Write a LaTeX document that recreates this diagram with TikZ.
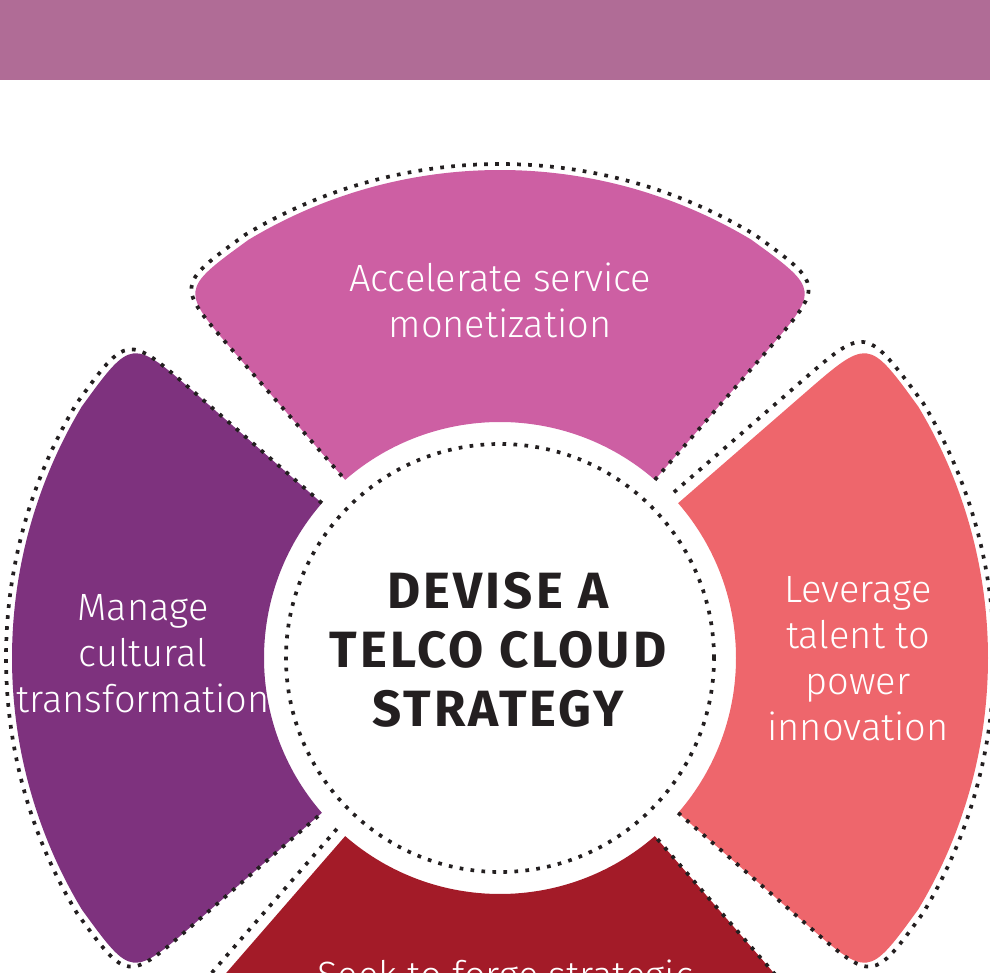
\documentclass[tikz,border=0pt]{standalone}
\usepackage{fontspec}
\setmainfont{Fira Sans}[UprightFont=* Light, BoldFont=* Bold]
\definecolor{banner}{HTML}{B06C96}
\definecolor{petalpink}{HTML}{CD5FA3}
\definecolor{petalplum}{HTML}{7E327E}
\definecolor{petalcoral}{HTML}{EE666C}
\definecolor{petalred}{HTML}{A31B28}
\definecolor{dotink}{HTML}{231F20}
\newfontfamily\hubfont{Fira Sans}[UprightFont=* Bold, LetterSpace=6]
\tikzset{
    petaldots/.style={draw=dotink, line width=3.7pt, dash pattern=on 3.7pt off 7.3pt},
    petaltext/.style={text=white, align=center, inner sep=0pt,
                      font=\fontsize{38}{46}\selectfont},
    hubtext/.style={text=dotink, align=center, inner sep=0pt,
                    font=\hubfont\fontsize{51}{59}\selectfont},
}
\begin{document}
\begin{tikzpicture}[x=1pt, y=1pt]
    \useasboundingbox (0,0) rectangle (990,972);
    \clip (0,0) rectangle (990,972);

    % banner
    \fill[banner] (0,892) rectangle (990,972);

    \begin{scope}[shift={(500,314)}]
    % petals: angle / colour / extra gap left / extra gap right
    \foreach \a/\col/\l/\r in {90/petalpink/0/0, 180/petalplum/0/0,
                               0/petalcoral/0/11, 270/petalred/11/0} {
        \fill[\col] (\a-41:236) -- (\a-41:403) .. controls (\a-41:488) .. (\a-31:488)
            arc[start angle=\a-31, end angle=\a+31, radius=488]
            .. controls (\a+41:488) .. (\a+41:403) -- (\a+41:236)
            arc[start angle=\a+41, end angle=\a-41, radius=236] -- cycle;
        \draw[petaldots] ([shift={(\a-131:\l)}]\a-41:236) -- ([shift={(\a-131:\l)}]\a-41:409)
            .. controls ([shift={(\a-131:\l)}]\a-41:494) .. (\a-31.1:494)
            arc[start angle=\a-31.1, end angle=\a+31.1, radius=494]
            .. controls ([shift={(\a+131:\r)}]\a+41:494) .. ([shift={(\a+131:\r)}]\a+41:409)
            -- ([shift={(\a+131:\r)}]\a+41:236);
    }
    \coordinate (centre) at (0,0);
    \draw[petaldots] (centre) circle[radius=214];
    \end{scope}

    \node[hubtext] (hub) at (498,322) {DEVISE A\\TELCO CLOUD\\STRATEGY};
    \node[petaltext] (accel) at (500,672) {Accelerate service\\monetization};
    \node[petaltext] (culture) at (143,318) {Manage\\cultural\\transformation};
    \node[petaltext] (talent) at (858,313) {Leverage\\talent to\\power\\innovation};
    \node[petaltext, anchor=north] (forge) at (505,12) {Seek to forge strategic};
\end{tikzpicture}
\end{document}
